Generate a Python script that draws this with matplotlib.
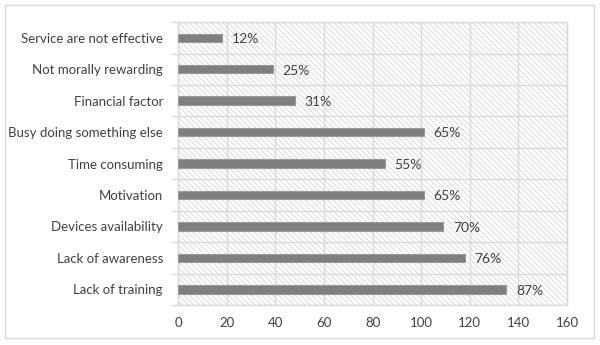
import numpy as np
import matplotlib.pyplot as plt
from matplotlib.patches import Rectangle

plt.rcParams['font.family'] = ['Lato', 'DejaVu Sans']
plt.rcParams['hatch.linewidth'] = 0.6

reasons = ['Lack of training', 'Lack of awareness', 'Devices availability',
           'Motivation', 'Time consuming', 'Busy doing something else',
           'Financial factor', 'Not morally rewarding', 'Service are not effective']
counts = [135, 118, 109, 101, 85, 101, 48, 39, 18]
respondents = 155

grid_c = '#d9d9d9'
text_c = '#404040'

fig = plt.figure(figsize=(6, 3.45), dpi=100)
ax = fig.add_axes([0.297, 0.116, 0.648, 0.82])

# outer chart frame
fig.patches.append(Rectangle((0.008, 0.02), 0.982, 0.965, transform=fig.transFigure,
                             fill=False, edgecolor=grid_c, linewidth=1))

y = np.arange(len(reasons))
ax.set_xlim(0, 160)
ax.set_ylim(-0.5, len(reasons) - 0.5)

# hatched plot background
ax.add_patch(Rectangle((0, 0), 1, 1, transform=ax.transAxes, facecolor='white',
                       edgecolor='#d6d6d6', hatch='\\' * 6, linewidth=0, zorder=0))

ax.barh(y, counts, height=0.27, color='#7f7f7f', edgecolor='#9a9a9a',
        linewidth=0.8, zorder=3)

for yi, c in zip(y, counts):
    ax.annotate(f'{round(100 * c / respondents)}%', (c, yi), xytext=(7, -1),
                textcoords='offset points', va='center', ha='left',
                fontsize=10, color=text_c)

ax.set_yticks(y)
ax.set_yticklabels(reasons)
ax.set_yticks(np.arange(-0.5, len(reasons)), minor=True)
ax.set_xticks(np.arange(0, 161, 20))

ax.grid(axis='x', color=grid_c, linewidth=1, zorder=1)
ax.grid(axis='y', which='minor', color=grid_c, linewidth=1, zorder=1)
ax.set_axisbelow(True)

ax.tick_params(axis='y', which='major', length=0, pad=11, labelsize=9.5, labelcolor=text_c)
ax.tick_params(axis='y', which='minor', length=5, color=grid_c, width=1)
ax.tick_params(axis='x', length=0, pad=9, labelsize=9.5, labelcolor=text_c)

for s in ax.spines.values():
    s.set_color(grid_c)
    s.set_linewidth(1)

fig.savefig('out.png', dpi=100)
